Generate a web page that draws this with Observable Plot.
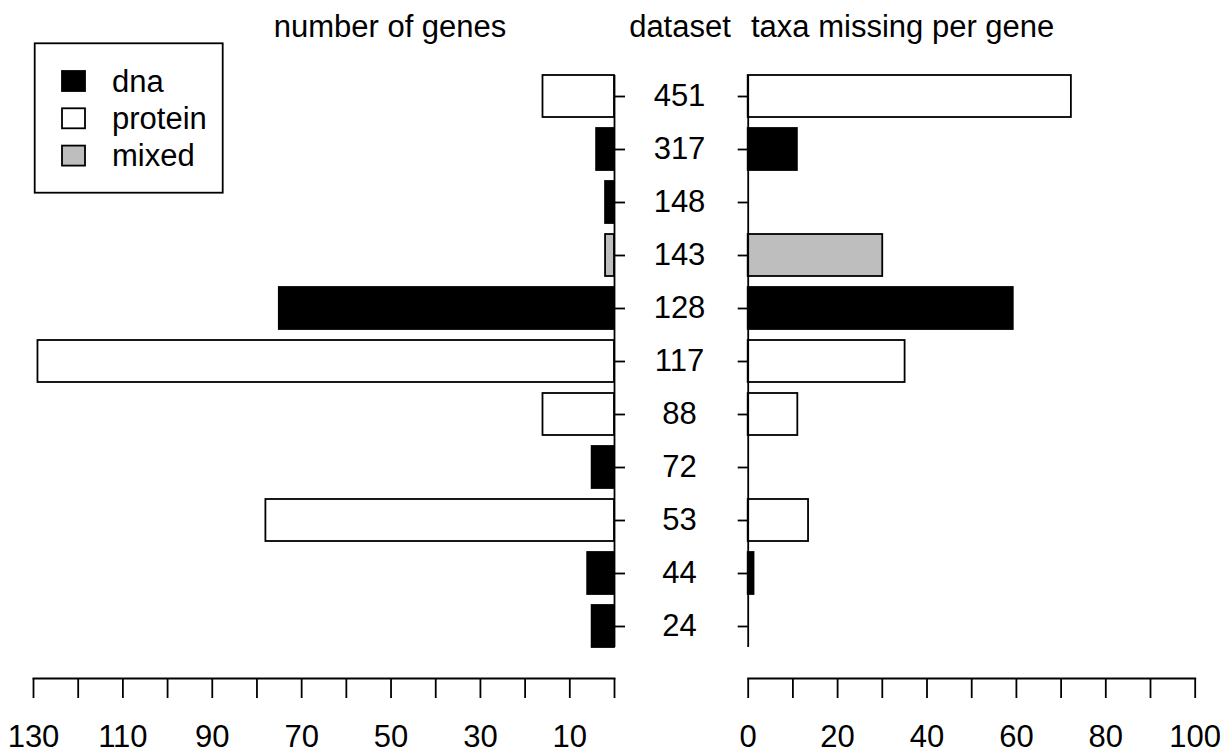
<!DOCTYPE html>
<html>
<head>
<meta charset="utf-8">
<script src="https://cdn.jsdelivr.net/npm/d3@7"></script>
<script src="https://cdn.jsdelivr.net/npm/@observablehq/plot@0.6"></script>
<style>
  body { margin: 0; background: #fff; }
  #chart { position: relative; width: 1231px; height: 754px; overflow: hidden; background: #fff; }
  #chart > svg { position: absolute; top: 0; }
</style>
</head>
<body>
<div id="chart"></div>
<script>
// Datasets, top to bottom
const datasets = ["451", "317", "148", "143", "128", "117", "88", "72", "53", "44", "24"];
// Sequence type of each dataset
const seqType = ["protein", "dna", "dna", "mixed", "dna", "protein", "protein", "dna", "protein", "dna", "dna"];
// Number of genes per dataset
const geneCounts = [16, 4, 2, 2, 75, 129, 16, 5, 78, 6, 5];
// Mean number of taxa missing per gene
const taxaMissing = [72.3, 11.0, 0, 30.1, 59.3, 35.1, 11.1, 0, 13.5, 1.3, 0];

// Legend categories and their fills
const typeNames = ["dna", "protein", "mixed"];
const typeFills = ["#000000", "#ffffff", "#bebebe"];

// Axis ticks and labelled ticks
const geneTicks = [0, 10, 20, 30, 40, 50, 60, 70, 80, 90, 100, 110, 120, 130];
const geneTickLabels = [130, 110, 90, 70, 50, 30, 10];
const taxaTicks = [0, 10, 20, 30, 40, 50, 60, 70, 80, 90, 100];
const taxaTickLabels = [0, 20, 40, 60, 80, 100];

const rows = datasets.map((d, i) => ({
  dataset: d, type: seqType[i], genes: geneCounts[i], missing: taxaMissing[i]
}));

const FONT = "'Liberation Sans', Arial, Helvetica, sans-serif";
const FS = 31;
const H = 754;
const LW = 1.8;
const bandRange = [64.5, 658.1];
const svgStyle = {fontFamily: FONT, fontSize: FS + "px", background: "transparent", color: "black", overflow: "visible"};
const colorScale = {type: "ordinal", domain: typeNames, range: typeFills};
const chart = document.getElementById("chart");

// Left panel: number of genes, growing leftwards from zero
const left = Plot.plot({
  width: 720, height: H,
  marginLeft: 33, marginRight: 106, marginTop: 0, marginBottom: 76,
  style: svgStyle,
  x: {domain: [130, 0]},
  y: {type: "band", domain: datasets, range: bandRange, padding: 0.2},
  color: colorScale,
  marks: [
    Plot.barX(rows, {y: "dataset", x1: 0, x2: "genes", fill: "type", stroke: "black", strokeWidth: LW}),
    Plot.ruleX([0], {y1: () => datasets[0], y2: () => datasets[datasets.length - 1], stroke: "black", strokeWidth: LW}),
    Plot.axisY({anchor: "right", tickSize: 10, tickPadding: 55, textAnchor: "middle", fontSize: FS, strokeWidth: LW, label: null}),
    Plot.frame({anchor: "bottom", strokeWidth: LW}),
    Plot.axisX({
      anchor: "bottom", ticks: geneTicks, tickSize: 20, tickPadding: 26, fontSize: FS, strokeWidth: LW, label: null,
      tickFormat: (d) => geneTickLabels.includes(d) ? String(d) : ""
    })
  ]
});
left.style.left = "0px";
chart.appendChild(left);

// Right panel: taxa missing per gene
const right = Plot.plot({
  width: 511, height: H,
  marginLeft: 27.7, marginRight: 36.3, marginTop: 0, marginBottom: 76,
  style: svgStyle,
  x: {domain: [0, 100]},
  y: {type: "band", domain: datasets, range: bandRange, padding: 0.2},
  color: colorScale,
  marks: [
    Plot.barX(rows, {y: "dataset", x1: 0, x2: "missing", fill: "type", stroke: "black", strokeWidth: LW}),
    Plot.ruleX([0], {y1: () => datasets[0], y2: () => datasets[datasets.length - 1], stroke: "black", strokeWidth: LW}),
    Plot.axisY({anchor: "left", tickSize: 10, strokeWidth: LW, label: null, tickFormat: () => ""}),
    Plot.frame({anchor: "bottom", strokeWidth: LW}),
    Plot.axisX({
      anchor: "bottom", ticks: taxaTicks, tickSize: 20, tickPadding: 26, fontSize: FS, strokeWidth: LW, label: null,
      tickFormat: (d) => taxaTickLabels.includes(d) ? String(d) : ""
    })
  ]
});
right.style.left = "720px";
chart.appendChild(right);

// Column headings and legend
const overlay = d3.create("svg")
  .attr("width", 1231).attr("height", H)
  .style("left", "0px")
  .style("font-family", FONT)
  .style("font-size", FS + "px");

const headings = [
  {text: "number of genes", x: 390, anchor: "middle"},
  {text: "dataset", x: 680, anchor: "middle"},
  {text: "taxa missing per gene", x: 751, anchor: "start"}
];
overlay.selectAll("text.head").data(headings).join("text")
  .attr("class", "head")
  .attr("x", (d) => d.x).attr("y", 37)
  .attr("text-anchor", (d) => d.anchor)
  .attr("fill", "black")
  .text((d) => d.text);

const legend = overlay.append("g");
legend.append("rect")
  .attr("x", 34.7).attr("y", 43.3).attr("width", 188).attr("height", 149.4)
  .attr("fill", "white").attr("stroke", "black").attr("stroke-width", LW);
const entry = legend.selectAll("g.entry").data(typeNames).join("g")
  .attr("class", "entry")
  .attr("transform", (d, i) => `translate(0,${81 + i * 37.3})`);
entry.append("rect")
  .attr("x", 62).attr("y", -10).attr("width", 23).attr("height", 20)
  .attr("fill", (d, i) => typeFills[i]).attr("stroke", "black").attr("stroke-width", LW);
entry.append("text")
  .attr("x", 112).attr("y", 10.5)
  .attr("fill", "black")
  .text((d) => d);

chart.appendChild(overlay.node());
</script>
</body>
</html>
